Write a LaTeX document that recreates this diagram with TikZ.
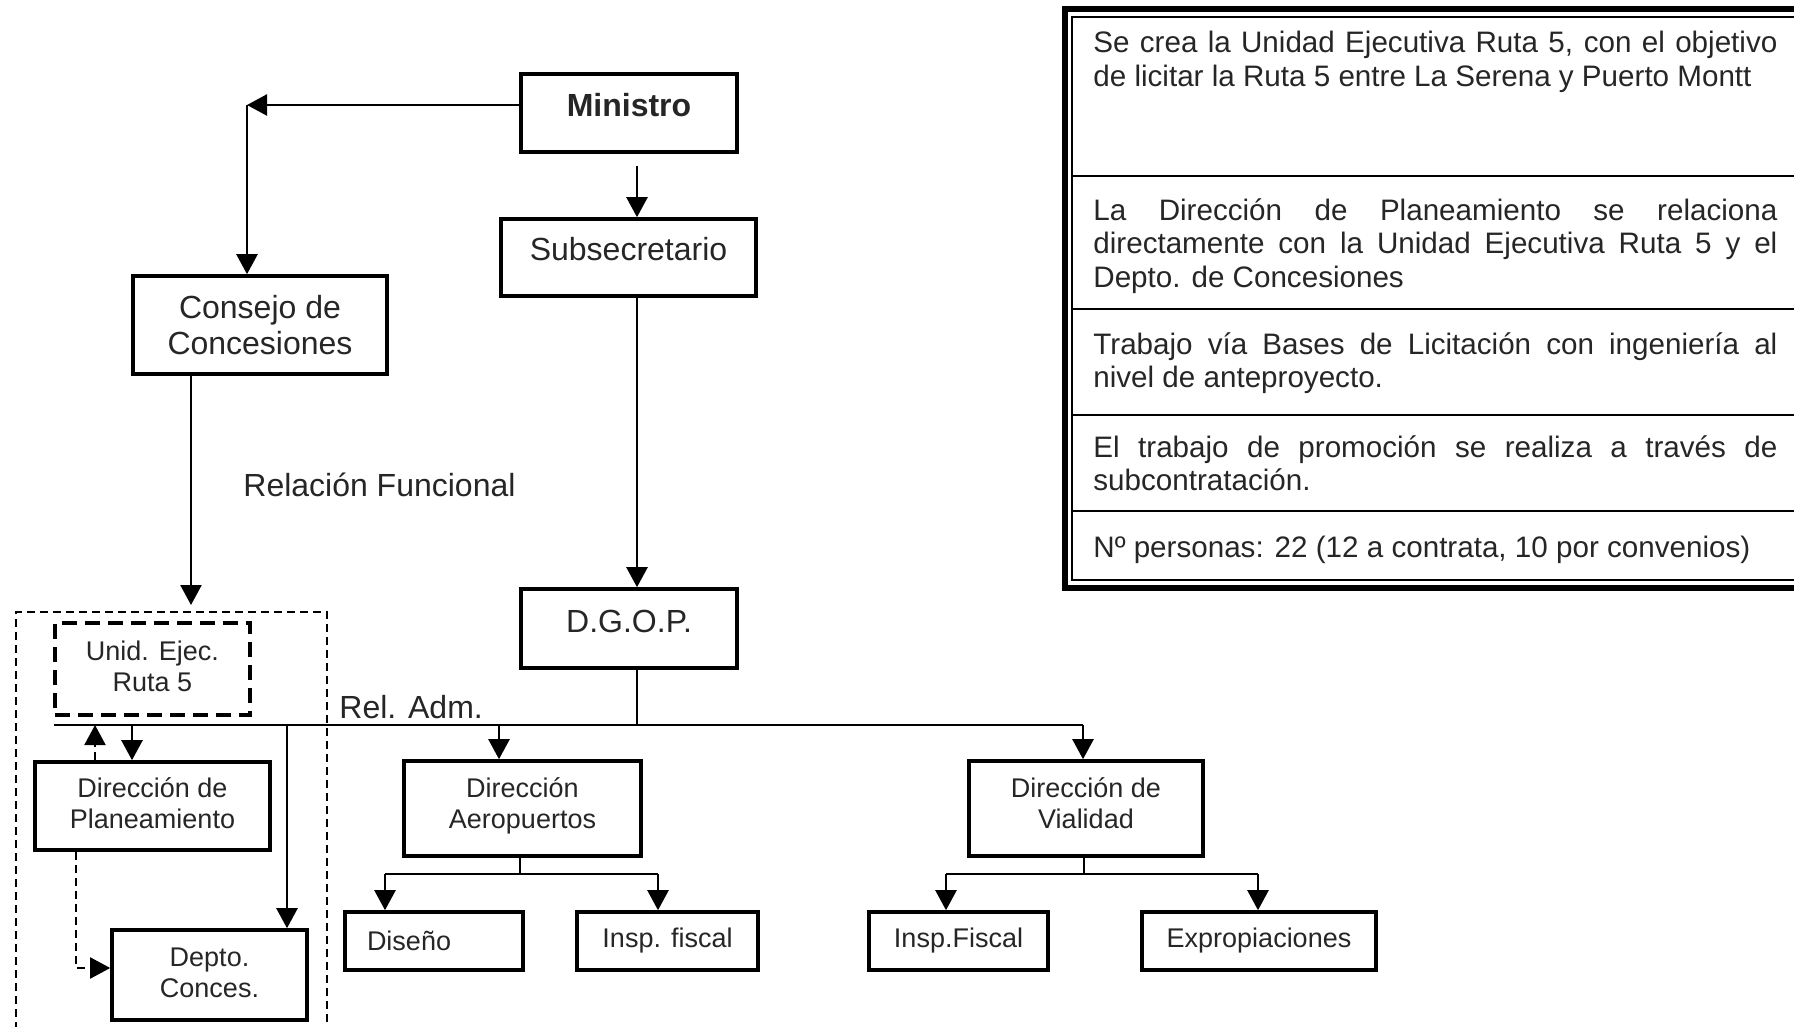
\documentclass[tikz,border=0pt]{standalone}
\usepackage{fontspec}
\setmainfont{Liberation Sans}
\usetikzlibrary{arrows.meta,calc}
\definecolor{ink}{HTML}{262626}
% text set on the node centre, moved by #1
\newcommand{\boxtext}[3]{\raisebox{#1}[0pt][0pt]{\parbox[c]{#2}{\centering #3}}}
\newcommand{\linetext}[2]{\raisebox{#1}[0pt][0pt]{#2}}
\begin{document}
\begin{tikzpicture}[x=0.5pt,y=-0.5pt,
  box/.style={draw, line width=1.8pt, inner sep=0pt, text=ink, align=center},
  big/.style={font=\fontsize{16}{18}\selectfont},
  small/.style={font=\fontsize{13.5}{15.5}\selectfont},
  conn/.style={line width=1.2pt},
  arr/.style={conn, -{Triangle[length=10pt,width=10.5pt]}},
  thindash/.style={line width=1pt, dash pattern=on 4pt off 2.5pt},
  thickdash/.style={line width=1.8pt, dash pattern=on 7.5pt off 4pt},
  note/.style={anchor=north west, inner sep=0pt, text width=342pt, align=justify,
    text=ink, font=\fontsize{14.8}{16.8}\selectfont},
  lbl/.style={anchor=west, inner sep=0pt, text=ink, font=\fontsize{16}{18}\selectfont}]

% page
\fill[white] (0,0) rectangle (1794,1027);
\useasboundingbox (0,0) rectangle (1794,1027);

% ---- upper hierarchy ----
\node[box, minimum width=108pt, minimum height=39pt] (min) at (629,113)
  {\linetext{-1.7pt}{\fontsize{16}{18}\selectfont\bfseries Ministro}};
\node[box, big, minimum width=127.5pt, minimum height=38.5pt] (sub) at (628.5,257.5)
  {\linetext{-1.7pt}{Subsecretario}};
\node[box, big, minimum width=127pt, minimum height=49pt] (con) at (260,325)
  {Consejo de\\Concesiones};
\node[box, big, minimum width=108pt, minimum height=39.5pt] (dgop) at (629,628.5)
  {\linetext{-2.1pt}{D.G.O.P.}};

% ---- concession group ----
\node[box, small, thickdash, minimum width=97.5pt, minimum height=46pt] (ue) at (152.5,669)
  {\boxtext{-2.2pt}{90pt}{Unid. Ejec.\\Ruta 5}};
\node[box, small, minimum width=117.5pt, minimum height=44pt] (dp) at (152.5,806)
  {\boxtext{-2.2pt}{110pt}{Dirección de\\Planeamiento}};
\node[box, small, minimum width=97.5pt, minimum height=45pt] (dc) at (209.5,975)
  {\boxtext{-2.5pt}{90pt}{Depto.\\Conces.}};

% ---- directorates ----
\node[box, small, minimum width=118.5pt, minimum height=47.5pt] (da) at (522.5,808.5)
  {\boxtext{-2.2pt}{110pt}{Dirección\\Aeropuertos}};
\node[box, small, minimum width=117pt, minimum height=47.5pt] (dv) at (1086,808.5)
  {\boxtext{-1.1pt}{110pt}{Dirección de\\Vialidad}};

\node[box, small, minimum width=89pt, minimum height=29pt] (dis) at (434,941)
  {\makebox[89pt][l]{\hspace{11pt}Diseño}};
\node[box, small, minimum width=90.5pt, minimum height=29pt] (ifa) at (667.5,941)
  {Insp. fiscal};
\node[box, small, minimum width=89.5pt, minimum height=29pt] (ifv) at (958.5,941)
  {Insp.Fiscal};
\node[box, small, minimum width=117pt, minimum height=29pt] (exp) at (1259,941)
  {Expropiaciones};

% ---- labels ----
\node[lbl] (rf) at (243,485) {Relación Funcional};
\node[lbl] (ra) at (339,707) {Rel. Adm.};

% ---- helper points ----
\coordinate (corner) at (247,105);
\coordinate (spine) at (637,166);
\coordinate (funct) at (191,605);
\coordinate (busL) at (54,725);
\coordinate (busR) at (1083,725);
\coordinate (upx) at (95,725);
\coordinate (dpx) at (132,725);
\coordinate (dcx) at (287,725);
\coordinate (dax) at (499,725);
\coordinate (aeroL) at (385,874);
\coordinate (aeroR) at (658,874);
\coordinate (aeroM) at (520,874);
\coordinate (vialL) at (946,874);
\coordinate (vialR) at (1258,874);
\coordinate (vialM) at (1084,874);
\coordinate (bend) at (76,968);

% ---- connectors ----
\draw[arr] (min.west |- corner) -- (corner);
\draw[arr] (corner) -- (corner |- con.north);
\draw[arr] (spine) -- (spine |- sub.north);
\draw[arr] (sub.south -| spine) -- (spine |- dgop.north);
\draw[arr] (con.south -| funct) -- (funct);

% administrative bus
\draw[conn] (dgop.south -| spine) -- (spine |- busL);
\draw[conn] (busL) -- (busR);
\draw[arr] (dpx) -- (dpx |- dp.north);
\draw[arr] (dcx) -- (dcx |- dc.north);
\draw[arr] (dax) -- (dax |- da.north);
\draw[arr] (busR) -- (busR |- dv.north);
\draw[thindash, -{Triangle[length=10pt,width=10.5pt]}] (upx |- dp.north) -- (upx);
\draw[thindash, -{Triangle[length=10pt,width=10.5pt]}] (dp.south -| bend) -- (bend) -- (dc.west |- bend);

% airport branch
\draw[conn] (da.south -| aeroM) -- (aeroM);
\draw[conn] (aeroL) -- (aeroR);
\draw[arr] (aeroL) -- (aeroL |- dis.north);
\draw[arr] (aeroR) -- (aeroR |- ifa.north);

% roads branch
\draw[conn] (dv.south -| vialM) -- (vialM);
\draw[conn] (vialL) -- (vialR);
\draw[arr] (vialL) -- (vialL |- ifv.north);
\draw[arr] (vialR) -- (vialR |- exp.north);

% dashed frame of the concession group
\draw[thindash] (16,1030) -- (16,612) -- (327,612) -- (327,1030);

% ---- notes table ----
\draw[line width=2.6pt] (1810,9) -- (1065,9) -- (1065,588) -- (1810,588);
\draw[line width=0.9pt] (1810,17) -- (1072,17) -- (1072,580) -- (1810,580);
\foreach \ry in {176,309,415,511}
  \draw[line width=1pt] (1072,\ry) -- (1810,\ry);

\node[note] (n1) at (1093,31)
  {Se crea la Unidad Ejecutiva Ruta 5, con el objetivo\linebreak
   de licitar la Ruta 5 entre La Serena y Puerto Montt};
\node[note] (n2) at (1093,198)
  {La Dirección de Planeamiento se relaciona\linebreak
   directamente con la Unidad Ejecutiva Ruta 5 y el\linebreak
   Depto. de Concesiones};
\node[note] (n3) at (1093,332)
  {Trabajo vía Bases de Licitación con ingeniería al\linebreak
   nivel de anteproyecto.};
\node[note] (n4) at (1093,435)
  {El trabajo de promoción se realiza a través de\linebreak
   subcontratación.};
\node[note] (n5) at (1093,536)
  {Nº personas: 22 (12 a contrata, 10 por convenios)};
\end{tikzpicture}
\end{document}
